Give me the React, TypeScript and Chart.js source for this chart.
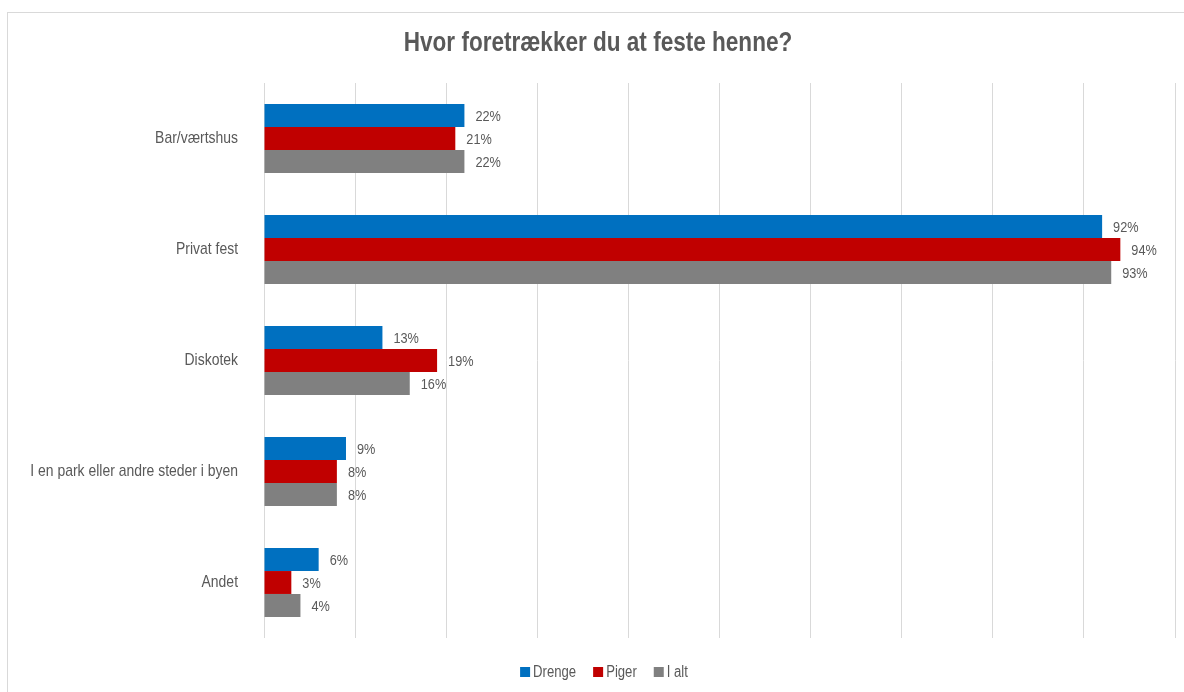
import React, { useEffect, useRef } from "react";
import { Chart, registerables } from "chart.js";

Chart.register(...registerables);

const TITLE = "Hvor foretrækker du at feste henne?";
const categories = [
  "Bar/værtshus",
  "Privat fest",
  "Diskotek",
  "I en park eller andre steder i byen",
  "Andet",
];
const seriesNames = ["Drenge", "Piger", "I alt"];
const drenge = [22, 92, 13, 9, 6];
const piger = [21, 94, 19, 8, 3];
const iAlt = [22, 93, 16, 8, 4];
const seriesColors = ["#0070C0", "#C00000", "#808080"];
const xTickStep = 10;
const xMin = 0;
const xMax = 100;

const FONT = "'Liberation Sans', Arial, sans-serif";
const TEXT = "#595959";
const SX = 0.82; // condensed look

function drawText(ctx: any, text: string, x: number, y: number, align: string, font: string) {
  ctx.save();
  ctx.font = font;
  ctx.textAlign = align;
  ctx.textBaseline = "middle";
  ctx.translate(x, y);
  ctx.scale(SX, 1);
  ctx.fillText(text, 0, 0);
  ctx.restore();
}

const decorPlugin = {
  id: "decor",
  afterDatasetsDraw(chart: any) {
    const ctx = chart.ctx;
    ctx.save();
    ctx.fillStyle = TEXT;
    chart.data.datasets.forEach((ds: any, di: number) => {
      const meta = chart.getDatasetMeta(di);
      meta.data.forEach((el: any, i: number) => {
        drawText(ctx, `${ds.data[i]}%`, el.x + 11, el.y + 1, "left", `15.5px ${FONT}`);
      });
    });
    // category labels
    const yScale = chart.scales.y;
    chart.data.labels.forEach((lab: string, i: number) => {
      drawText(ctx, lab, 238, yScale.getPixelForValue(i), "right", `17px ${FONT}`);
    });
    ctx.restore();
  },
  afterDraw(chart: any) {
    const ctx = chart.ctx;
    ctx.save();
    ctx.fillStyle = TEXT;
    drawText(ctx, TITLE, 598, 43, "center", `bold 27.5px ${FONT}`);
    // legend
    const lfont = `16px ${FONT}`;
    ctx.font = lfont;
    const box = 10;
    const gap = 3;
    const spacing = 17;
    const items = chart.data.datasets.map((ds: any) => ({
      label: ds.label,
      color: ds.backgroundColor,
      w: ctx.measureText(ds.label).width * SX,
    }));
    const total =
      items.reduce((s: number, it: any) => s + box + gap + it.w, 0) +
      spacing * (items.length - 1);
    let x = 604 - total / 2;
    const y = 672;
    items.forEach((it: any) => {
      ctx.fillStyle = it.color;
      ctx.fillRect(x, y - box / 2, box, box);
      x += box + gap;
      ctx.fillStyle = TEXT;
      drawText(ctx, it.label, x, y + 1, "left", lfont);
      x += it.w + spacing;
    });
    ctx.restore();
  },
};

export default function App() {
  const ref = useRef<HTMLCanvasElement | null>(null);
  useEffect(() => {
    if (!ref.current) return;
    const values = [drenge, piger, iAlt];
    const chart = new Chart(ref.current, {
      type: "bar",
      data: {
        labels: categories,
        datasets: seriesNames.map((name, i) => ({
          label: name,
          data: values[i],
          backgroundColor: seriesColors[i],
          borderWidth: 0,
          categoryPercentage: 0.62,
          barPercentage: 1.0,
        })),
      },
      options: {
        indexAxis: "y",
        responsive: false,
        animation: false,
        layout: { padding: { top: 83, bottom: 54, left: 0, right: 9 } },
        plugins: {
          legend: { display: false },
          title: { display: false },
          tooltip: { enabled: false },
        },
        scales: {
          x: {
            min: xMin,
            max: xMax,
            ticks: { stepSize: xTickStep, display: false },
            grid: { color: "#d9d9d9", drawTicks: false, lineWidth: 1 },
            border: { display: false },
            afterFit: (s: any) => {
              s.height = 0;
            },
          },
          y: {
            ticks: { display: false },
            grid: { display: false },
            border: { display: false },
            afterFit: (s: any) => {
              s.width = 264;
            },
          },
        },
      } as any,
      plugins: [decorPlugin],
    });
    return () => chart.destroy();
  }, []);

  return (
    <div
      style={{
        position: "fixed",
        left: 0,
        top: 0,
        width: 1184,
        height: 692,
        overflow: "hidden",
        background: "#fff",
      }}
    >
      <div
        style={{
          position: "absolute",
          left: 7,
          top: 12,
          width: 1200,
          height: 700,
          border: "1px solid #d9d9d9",
          boxSizing: "border-box",
        }}
      />
      <canvas
        ref={ref}
        width={1184}
        height={692}
        style={{ position: "absolute", left: 0, top: 0 }}
      />
    </div>
  );
}
